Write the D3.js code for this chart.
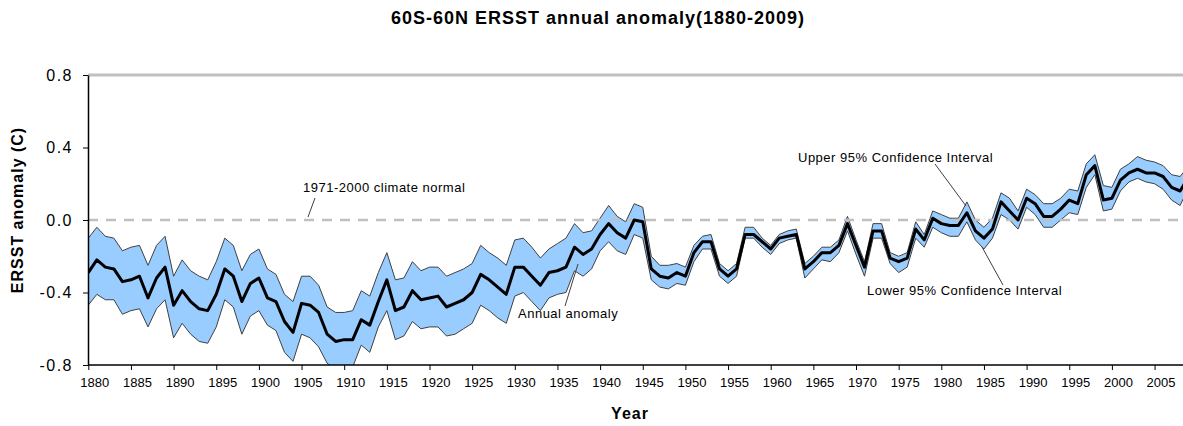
<!DOCTYPE html>
<html>
<head>
<meta charset="utf-8">
<script src="https://cdn.jsdelivr.net/npm/d3@7/dist/d3.min.js"></script>
<style>
  body { margin: 0; background: #fff; }
  text { font-family: Arial, "Liberation Sans", sans-serif; fill: #000; }
</style>
</head>
<body>
<div id="chart" style="width:1183px;height:426px;"></div>
<script>
const firstYear = 1880;
const anomaly = [
  -0.29, -0.22, -0.26, -0.27, -0.34, -0.33, -0.31, -0.43, -0.32, -0.26,
  -0.47, -0.39, -0.45, -0.49, -0.50, -0.41, -0.27, -0.31, -0.45, -0.35,
  -0.32, -0.43, -0.45, -0.56, -0.62, -0.46, -0.47, -0.51, -0.63, -0.67,
  -0.66, -0.66, -0.55, -0.58, -0.45, -0.33, -0.50, -0.48, -0.39, -0.44,
  -0.43, -0.42, -0.48, -0.46, -0.44, -0.40, -0.30, -0.33, -0.37, -0.41,
  -0.26, -0.26, -0.31, -0.36, -0.29, -0.28, -0.26, -0.15, -0.19, -0.16,
  -0.08, -0.02, -0.07, -0.10, 0.00, -0.01, -0.27, -0.31, -0.32, -0.29,
  -0.31, -0.18, -0.12, -0.12, -0.27, -0.31, -0.27, -0.08, -0.08, -0.12,
  -0.16, -0.10, -0.09, -0.08, -0.27, -0.23, -0.18, -0.18, -0.14, -0.02,
  -0.14, -0.26, -0.06, -0.06, -0.21, -0.23, -0.21, -0.05, -0.11, 0.01,
  -0.02, -0.03, -0.03, 0.04, -0.06, -0.10, -0.05, 0.10, 0.05, 0.00,
  0.12, 0.09, 0.02, 0.02, 0.06, 0.11, 0.09, 0.25, 0.30, 0.11,
  0.12, 0.22, 0.26, 0.28, 0.26, 0.26, 0.24, 0.18, 0.16, 0.24
];
const upper95 = [
  -0.10, -0.04, -0.09, -0.10, -0.17, -0.15, -0.14, -0.25, -0.14, -0.09,
  -0.31, -0.22, -0.28, -0.31, -0.33, -0.23, -0.10, -0.14, -0.28, -0.19,
  -0.16, -0.27, -0.30, -0.41, -0.45, -0.31, -0.31, -0.36, -0.48, -0.51,
  -0.51, -0.50, -0.39, -0.42, -0.29, -0.18, -0.33, -0.32, -0.23, -0.28,
  -0.26, -0.26, -0.31, -0.29, -0.27, -0.24, -0.14, -0.18, -0.21, -0.25,
  -0.11, -0.10, -0.15, -0.21, -0.16, -0.13, -0.10, -0.02, -0.07, -0.06,
  0.01, 0.08, 0.02, -0.01, 0.09, 0.07, -0.20, -0.25, -0.25, -0.24,
  -0.26, -0.14, -0.09, -0.08, -0.24, -0.28, -0.24, -0.04, -0.04, -0.10,
  -0.14, -0.08, -0.06, -0.05, -0.24, -0.20, -0.15, -0.15, -0.11, 0.02,
  -0.11, -0.23, -0.02, -0.02, -0.18, -0.20, -0.18, -0.01, -0.08, 0.05,
  0.03, 0.01, 0.01, 0.10, 0.00, -0.04, 0.01, 0.15, 0.12, 0.05,
  0.17, 0.14, 0.09, 0.09, 0.12, 0.17, 0.16, 0.31, 0.36, 0.19,
  0.18, 0.28, 0.31, 0.35, 0.33, 0.32, 0.30, 0.25, 0.24, 0.30
];
const lower95 = [
  -0.47, -0.41, -0.44, -0.44, -0.52, -0.50, -0.49, -0.59, -0.49, -0.44,
  -0.65, -0.57, -0.63, -0.67, -0.68, -0.59, -0.44, -0.48, -0.63, -0.53,
  -0.50, -0.58, -0.61, -0.73, -0.78, -0.63, -0.65, -0.70, -0.79, -0.83,
  -0.82, -0.81, -0.69, -0.73, -0.59, -0.50, -0.66, -0.64, -0.56, -0.60,
  -0.59, -0.59, -0.64, -0.63, -0.60, -0.57, -0.47, -0.50, -0.54, -0.57,
  -0.42, -0.40, -0.45, -0.50, -0.43, -0.41, -0.40, -0.28, -0.31, -0.27,
  -0.17, -0.12, -0.17, -0.19, -0.08, -0.10, -0.33, -0.37, -0.38, -0.35,
  -0.36, -0.23, -0.16, -0.16, -0.31, -0.35, -0.31, -0.10, -0.10, -0.15,
  -0.19, -0.13, -0.11, -0.10, -0.32, -0.27, -0.22, -0.23, -0.18, -0.06,
  -0.19, -0.31, -0.10, -0.10, -0.24, -0.29, -0.26, -0.10, -0.15, -0.04,
  -0.07, -0.09, -0.09, -0.01, -0.11, -0.16, -0.10, 0.03, 0.00, -0.05,
  0.07, 0.03, -0.04, -0.04, 0.00, 0.04, 0.03, 0.18, 0.25, 0.05,
  0.06, 0.16, 0.21, 0.23, 0.21, 0.20, 0.17, 0.11, 0.08, 0.18
];
const yTicks = [-0.8, -0.4, 0.0, 0.4, 0.8];
const xTicks = d3.range(1880, 2006, 5);

const width = 1183, height = 426;
const plot = { left: 88, top: 75, bottom: 365, right: 1183 };

const data = anomaly.map((v, i) => ({
  year: firstYear + i, anom: v, hi: upper95[i], lo: lower95[i]
}));

const svg = d3.select("#chart").append("svg")
  .attr("width", width)
  .attr("height", height);

const x = d3.scaleLinear()
  .domain([1880, 2009])
  .range([88.3, 88.3 + 129 * 8.53]);

const y = d3.scaleLinear()
  .domain([-0.8, 0.8])
  .range([plot.bottom, plot.top]);

svg.append("defs").append("clipPath").attr("id", "clip")
  .append("rect")
  .attr("x", plot.left).attr("y", plot.top)
  .attr("width", plot.right - plot.left).attr("height", plot.bottom - plot.top);

// top border at 0.8
svg.append("line")
  .attr("x1", plot.left).attr("x2", plot.right)
  .attr("y1", y(0.8)).attr("y2", y(0.8))
  .attr("stroke", "#c0c0c0").attr("stroke-width", 3);

const g = svg.append("g").attr("clip-path", "url(#clip)");

// confidence band
g.append("path")
  .datum(data)
  .attr("fill", "#99ccff")
  .attr("d", d3.area().x(d => x(d.year)).y0(d => y(d.lo)).y1(d => y(d.hi)));

["hi", "lo"].forEach(k => {
  g.append("path")
    .datum(data)
    .attr("fill", "none")
    .attr("stroke", "#404040")
    .attr("stroke-width", 1)
    .attr("d", d3.line().x(d => x(d.year)).y(d => y(d[k])));
});

// climate normal
g.append("line")
  .attr("x1", plot.left).attr("x2", plot.right)
  .attr("y1", y(0)).attr("y2", y(0))
  .attr("stroke", "#c0c0c0").attr("stroke-width", 2.5)
  .attr("stroke-dasharray", "10,8");

// annual anomaly
g.append("path")
  .datum(data)
  .attr("fill", "none")
  .attr("stroke", "#000")
  .attr("stroke-width", 3)
  .attr("stroke-linejoin", "round")
  .attr("d", d3.line().x(d => x(d.year)).y(d => y(d.anom)));

// axes
const yAxis = svg.append("g")
  .attr("transform", `translate(${plot.left},0)`)
  .call(d3.axisLeft(y).tickValues(yTicks).tickFormat(d => d.toFixed(1)).tickSize(5).tickSizeOuter(0));
yAxis.select(".domain").attr("stroke-width", 1.5);
yAxis.selectAll("text")
  .style("font-size", "16px").style("letter-spacing", "1.5px")
  .attr("x", -15);

const xAxis = svg.append("g")
  .attr("transform", `translate(0,${plot.bottom})`)
  .call(d3.axisBottom(x).tickValues(xTicks).tickFormat(d3.format("d")).tickSize(5).tickSizeOuter(0));
xAxis.select(".domain").attr("stroke-width", 1.5)
  .attr("d", `M${plot.left},0H${plot.right}`);
xAxis.selectAll("text").style("font-size", "13px").attr("y", 13).attr("dx", 6);

// titles
svg.append("text")
  .attr("x", 598).attr("y", 24)
  .attr("text-anchor", "middle")
  .style("font-size", "18px").style("font-weight", "bold").style("letter-spacing", "1px")
  .text("60S-60N ERSST annual anomaly(1880-2009)");

svg.append("text")
  .attr("transform", "translate(23,210) rotate(-90)")
  .attr("text-anchor", "middle")
  .style("font-size", "16px").style("font-weight", "bold").style("letter-spacing", "1px")
  .text("ERSST anomaly (C)");

svg.append("text")
  .attr("x", 630).attr("y", 419)
  .attr("text-anchor", "middle")
  .style("font-size", "16px").style("font-weight", "bold").style("letter-spacing", "1px")
  .text("Year");

// annotations
const notes = [
  { label: "1971-2000 climate normal", tx: 303, ty: 192, x1: 315, y1: 198, x2: 308, y2: 217 },
  { label: "Annual anomaly", tx: 518, ty: 318, x1: 565, y1: 306, x2: 578, y2: 264 },
  { label: "Upper 95% Confidence Interval", tx: 798, ty: 162, x1: 935, y1: 164, x2: 966, y2: 206 },
  { label: "Lower 95% Confidence Interval", tx: 867, ty: 295, x1: 1003, y1: 285, x2: 982, y2: 247 }
];
notes.forEach(n => {
  svg.append("line")
    .attr("x1", n.x1).attr("y1", n.y1).attr("x2", n.x2).attr("y2", n.y2)
    .attr("stroke", "#404040").attr("stroke-width", 1);
  svg.append("text")
    .attr("x", n.tx).attr("y", n.ty)
    .style("font-size", "13px").style("letter-spacing", "0.5px")
    .text(n.label);
});
</script>
</body>
</html>
